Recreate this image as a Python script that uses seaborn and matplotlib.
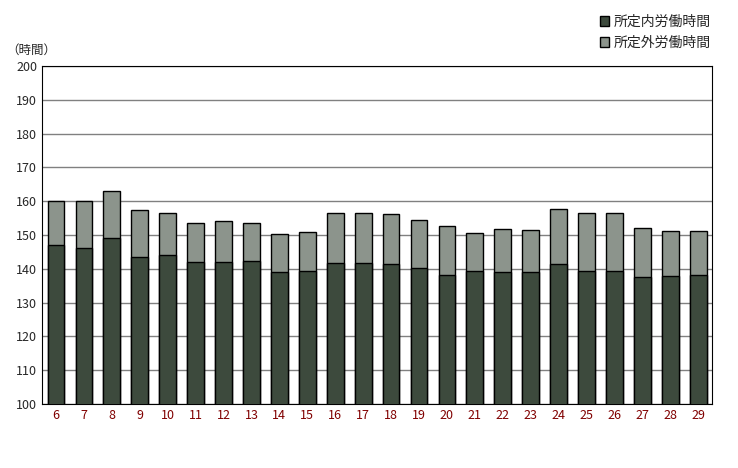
import matplotlib.pyplot as plt
import pandas as pd
import seaborn as sns

years = [str(y) for y in range(6, 30)]
total_hours = [160, 160, 163, 157.5, 156.5, 153.5, 154, 153.5, 150.3, 151, 156.5, 156.5,
               156.3, 154.5, 152.5, 150.7, 151.8, 151.5, 157.7, 156.5, 156.5, 152.2, 151.2, 151.2]
scheduled_hours = [147, 146, 149, 143.5, 144, 142, 142, 142.3, 139, 139.3, 141.8, 141.8,
                   141.5, 140.3, 138.2, 139.3, 139.1, 138.9, 141.4, 139.4, 139.4, 137.6, 137.9, 138.1]

df = pd.DataFrame({"year": years, "total": total_hours, "scheduled": scheduled_hours})

sns.set_style("white")
plt.rcParams['font.family'] = ['Noto Sans CJK JP', 'DejaVu Sans']

fig = plt.figure(figsize=(7.38, 4.68), dpi=100)
ax = fig.add_axes([0.057, 0.137, 0.908, 0.722])

# 合計を先に描いて、その上に所定内を重ねる
sns.barplot(data=df, x="year", y="total", color="#8c948c", edgecolor="black",
            linewidth=1, width=0.6, saturation=1, ax=ax, label="所定外労働時間", zorder=2)
sns.barplot(data=df, x="year", y="scheduled", color="#3d4a3d", edgecolor="black",
            linewidth=1, width=0.6, saturation=1, ax=ax, label="所定内労働時間", zorder=3)
if ax.get_legend() is not None:
    ax.get_legend().remove()

ax.set_ylim(100, 200)
ax.set_yticks(range(100, 201, 10))
ax.set_xlim(-0.5, len(years) - 0.5)
ax.yaxis.grid(True, color="#808080", linewidth=1)
ax.set_axisbelow(True)
ax.set_xlabel("")
ax.set_ylabel("")
ax.tick_params(axis="both", labelsize=9, length=0)
for lbl in ax.get_xticklabels():
    lbl.set_color("#800000")
for s in ax.spines.values():
    s.set_color("black")
fig.text(0.008, 0.885, "（時間）", fontsize=9, ha="left")

handles, labels = ax.get_legend_handles_labels()
fig.legend(handles[::-1], labels[::-1], loc="upper right", bbox_to_anchor=(0.98, 0.995),
           frameon=False, fontsize=10, handlelength=0.7, handleheight=0.7, handletextpad=0.3)

fig.savefig("out.png", dpi=100)
